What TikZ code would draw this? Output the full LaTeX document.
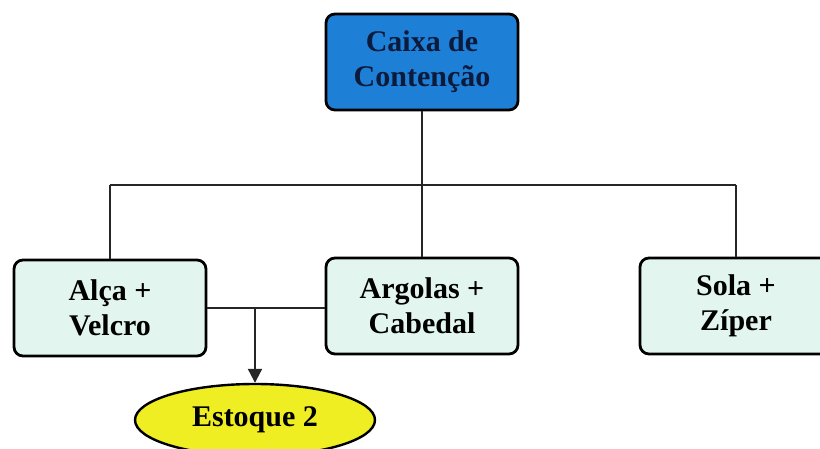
\documentclass[tikz,border=0pt]{standalone}
\usepackage{fontspec}
\setmainfont{Liberation Serif}
\usetikzlibrary{shapes.geometric,arrows.meta}
\definecolor{topblue}{HTML}{1E7FD6}
\definecolor{mint}{HTML}{E2F6EF}
\definecolor{yel}{HTML}{EEEE22}
\definecolor{navy}{HTML}{0C1A3C}
\tikzset{
  box/.style={draw=black, line width=2.8pt, rounded corners=9pt, fill=mint,
    minimum width=192pt, minimum height=96pt, align=center,
    font=\fontsize{30}{35}\selectfont\bfseries, inner sep=0pt},
  conn/.style={draw=black!85, line width=2.2pt},
}
\begin{document}
\begin{tikzpicture}[x=1pt,y=-1pt]
\useasboundingbox (0,0) rectangle (820,448);
\node[box, fill=topblue, text=navy] (top) at (422,62) {Caixa de\\Contenção};
\node[box] (alca) at (110,308) {Alça +\\Velcro};
\node[box] (arg) at (422,306) {Argolas +\\Cabedal};
\node[box] (sola) at (736,306) {Sola +\\Zíper};
\node[draw=black, line width=2.4pt, fill=yel, ellipse, minimum width=240pt, minimum height=72pt,
  font=\fontsize{30}{35}\selectfont\bfseries, inner sep=0pt] (est) at (255,420) {Estoque 2};
\coordinate (bus) at (422,185);
\coordinate (bl) at (110,185);
\coordinate (br) at (736,185);
\coordinate (mid) at (255,308);
\draw[conn] (top.south) -- (arg.north);
\draw[conn] (bl) -- (br);
\draw[conn] (bl) -- (alca.north);
\draw[conn] (br) -- (sola.north);
\draw[conn] (alca.east) -- (arg.west |- alca.east);
\draw[conn, -{Triangle[length=14pt,width=14pt]}] (mid) -- (est.north);
\end{tikzpicture}
\end{document}
